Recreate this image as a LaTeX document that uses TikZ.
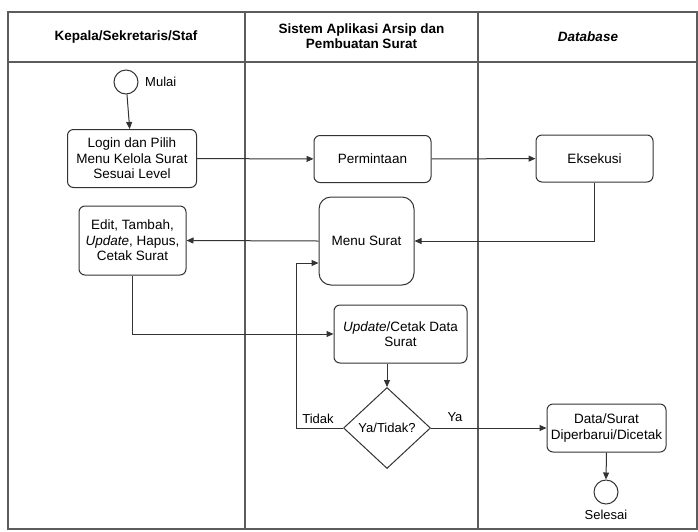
\documentclass[tikz,border=0pt]{standalone}
\usepackage{fontspec}
\setmainfont{Liberation Sans}
\usetikzlibrary{arrows.meta,shapes.geometric}
\definecolor{ln}{HTML}{333333}
\begin{document}
\begin{tikzpicture}[x=1pt,y=-1pt,
  box/.style={draw=ln,line width=1pt,rounded corners=6pt,align=center,inner sep=1pt,font=\fontsize{13.5}{15.5}\selectfont},
  conn/.style={draw=ln,line width=1pt,-{Triangle[length=7pt,width=6pt]}},
  lane/.style={draw=ln!80,line width=1.6pt},
  hdr/.style={font=\fontsize{13.5}{15.5}\selectfont\bfseries,align=center},
  lbl/.style={font=\fontsize{13}{15}\selectfont,inner sep=1pt}]
\useasboundingbox (0,0) rectangle (698,531);
\draw[lane] (8,12) rectangle (697,529);
\draw[lane] (8,62) -- (697,62);
\draw[lane] (245,12) -- (245,529);
\draw[lane] (478,12) -- (478,529);
\node[hdr] (h1) at (126,37) {Kepala/Sekretaris/Staf};
\node[hdr] (h2) at (361.5,36) {Sistem Aplikasi Arsip dan\\Pembuatan Surat};
\node[hdr] (h3) at (588,37) {\textit{Database}};
% nodes
\node[draw=ln,line width=1pt,circle,minimum size=24pt,inner sep=0pt] (start) at (126,82) {};
\node[lbl,anchor=west] (startl) at (144,82) {Mulai};
\node[box,minimum width=129pt,minimum height=58pt] (login) at (132,158.5) {Login dan Pilih\\Menu Kelola Surat\\Sesuai Level};
\node[box,minimum width=117pt,minimum height=47pt] (perm) at (372.5,159) {Permintaan};
\node[box,minimum width=117pt,minimum height=47pt] (eks) at (594.5,158.5) {Eksekusi};
\node[box,rounded corners=12pt,minimum width=95pt,minimum height=88pt] (menu) at (366.5,241) {Menu Surat};
\node[box,minimum width=107pt,minimum height=69pt] (edit) at (132.5,240.5) {Edit, Tambah,\\\textit{Update}, Hapus,\\Cetak Surat};
\node[box,minimum width=133pt,minimum height=58pt] (upd) at (400.5,334) {\textit{Update}/Cetak Data\\Surat};
\node[draw=ln,line width=1pt,diamond,shape aspect=1.07,minimum width=87pt,minimum height=81pt,inner sep=0pt,font=\fontsize{13}{15}\selectfont] (dia) at (387,428) {Ya/Tidak?};
\node[box,minimum width=119pt,minimum height=48pt,inner sep=0pt] (data) at (606.5,428) {Data/Surat\\Diperbarui/Dicetak};
\node[draw=ln,line width=1pt,circle,minimum size=24pt,inner sep=0pt] (end) at (606,492) {};
\node[lbl] (endl) at (606,515) {Selesai};
\node[lbl] (tidak) at (318,419) {Tidak};
\node[lbl] (ya) at (455,417) {Ya};
\coordinate (tk) at (296,263);
% connectors
\draw[conn] (start) -- (login);
\draw[conn] (login) -- (perm);
\draw[conn] (perm) -- (eks);
\draw[conn] (eks.south) |- (menu.east);
\draw[conn] (menu.west) -- (edit.east);
\draw[conn] (edit.south) |- (upd.west);
\draw[conn] (dia.north |- upd.south) -- (dia.north);
\draw[conn] (dia.west) -| (tk) -- (tk -| menu.west);
\draw[conn] (dia.east) -- (data.west);
\draw[conn] (data.south) -- (end.north);
\end{tikzpicture}
\end{document}
